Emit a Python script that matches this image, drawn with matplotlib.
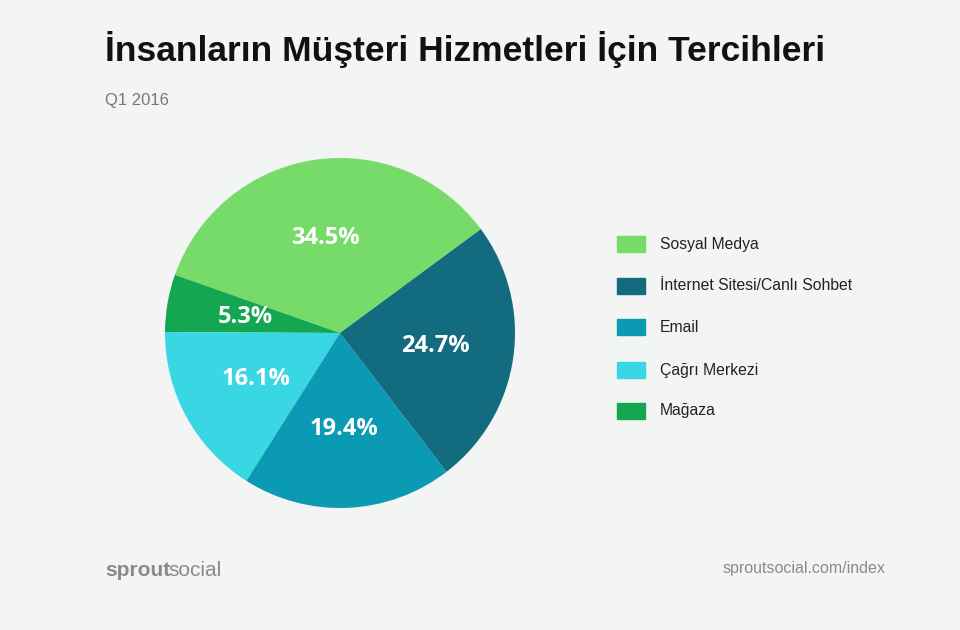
import matplotlib.pyplot as plt
from matplotlib.patches import Rectangle

labels = ["Sosyal Medya", "İnternet Sitesi/Canlı Sohbet", "Email", "Çağrı Merkezi", "Mağaza"]
values = [34.5, 24.7, 19.4, 16.1, 5.3]
colors = ["#77db6a", "#136b80", "#0b9ab3", "#38d7e3", "#14a651"]

# pie order counter-clockwise from the top-right boundary
order = [0, 4, 3, 2, 1]

plt.rcParams["font.family"] = ["Liberation Sans", "DejaVu Sans"]
bg = "#f3f5f4"
fig = plt.figure(figsize=(9.6, 6.3), dpi=100, facecolor=bg)

ax = fig.add_axes([165 / 960, 1 - 508 / 630, 350 / 960, 350 / 630])
wedges, texts, autotexts = ax.pie(
    [values[i] for i in order],
    colors=[colors[i] for i in order],
    startangle=36.4,
    autopct="%.1f%%",
    pctdistance=0.55,
    textprops=dict(color="white", fontsize=17, fontweight="bold", family=["Open Sans", "DejaVu Sans"]),
)
ax.set_xlim(-1, 1)
ax.set_ylim(-1, 1)
ax.set_aspect("equal")

fig.text(105 / 960, 1 - 50 / 630, "İnsanların Müşteri Hizmetleri İçin Tercihleri",
         fontsize=25.5, fontweight="bold", color="#111111", va="center")
fig.text(105 / 960, 1 - 101 / 630, "Q1 2016", fontsize=12, color="#777777", va="center")

ys = [244, 286, 327, 370, 411]
for lab, col, y in zip(labels, colors, ys):
    fig.patches.append(Rectangle((617 / 960, 1 - (y + 8) / 630), 28 / 960, 16 / 630,
                                 color=col, transform=fig.transFigure))
    fig.text(660 / 960, 1 - y / 630, lab, fontsize=11.3, color="#222222", va="center")

fig.text(105 / 960, 1 - 570 / 630, "sprout", fontsize=15, fontweight="bold",
         color="#8a8a8a", va="center")
fig.text(168 / 960, 1 - 570 / 630, "social", fontsize=15, color="#8a8a8a", va="center")
fig.text(885 / 960, 1 - 569 / 630, "sproutsocial.com/index", fontsize=11.5,
         color="#8a8a8a", va="center", ha="right")

fig.savefig("out.png", facecolor=bg)
